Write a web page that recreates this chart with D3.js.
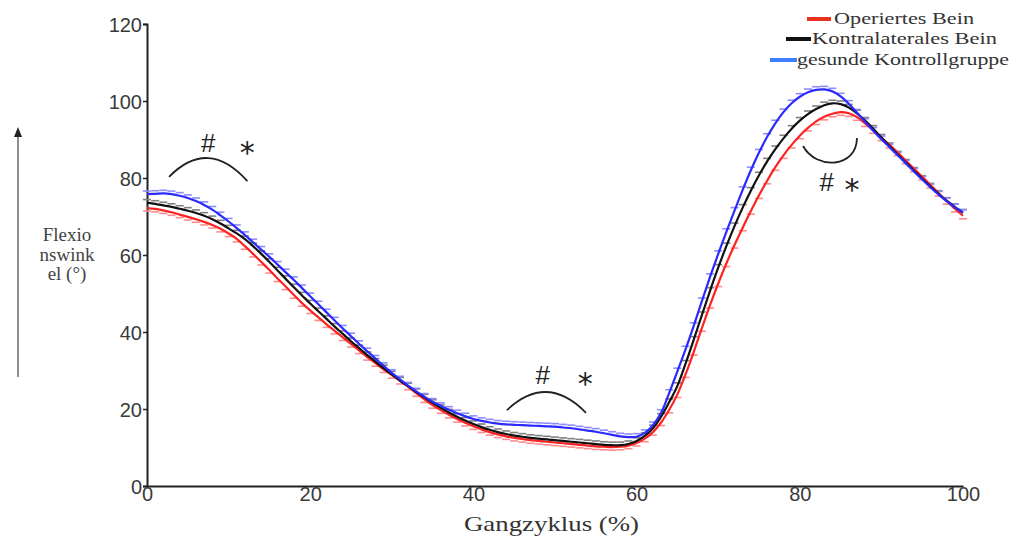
<!DOCTYPE html>
<html><head><meta charset="utf-8">
<script src="https://cdn.jsdelivr.net/npm/d3@7"></script>
<style>body{margin:0;background:#fff} svg{display:block}</style>
</head><body>
<svg id="c" width="1013" height="543"></svg>
<script>
// ---- data ----
const gaitCycle = d3.range(0, 101); // % of gait cycle, 1% steps
const operiertes = [72.2,72.0,71.6,71.1,70.5,69.9,69.3,68.6,67.8,66.8,65.6,64.2,62.3,60.3,58.2,56.1,53.9,51.8,49.6,47.5,
  45.6,43.8,42.0,40.3,38.6,36.9,35.2,33.5,31.9,30.3,28.8,27.3,25.8,24.1,22.5,21.0,19.7,18.5,17.4,16.4,
  15.5,14.7,14.0,13.4,12.9,12.5,12.2,11.9,11.7,11.5,11.3,11.1,10.9,10.7,10.5,10.3,10.2,10.1,10.2,10.5,
  11.2,12.3,14.0,16.5,19.8,23.8,29.0,34.8,41.0,47.0,52.6,57.8,62.6,67.1,71.4,75.5,79.3,82.8,85.9,88.6,
  91.0,93.0,94.7,95.9,96.7,97.1,96.8,95.8,94.2,92.4,90.5,88.6,86.6,84.5,82.4,80.3,78.2,76.1,74.0,72.0,70.2];
const kontralateral = [73.6,73.3,72.9,72.5,72.0,71.5,70.9,70.2,69.3,68.2,66.9,65.6,64.1,62.3,60.3,58.2,56.0,53.8,51.6,49.5,
  47.4,45.4,43.4,41.4,39.5,37.6,35.8,34.0,32.3,30.6,29.0,27.4,25.9,24.4,23.0,21.6,20.3,19.1,18.0,17.0,
  16.1,15.3,14.6,14.0,13.5,13.1,12.8,12.5,12.3,12.1,11.9,11.7,11.5,11.3,11.1,10.9,10.7,10.6,10.6,10.9,
  11.7,13.0,15.0,18.0,21.8,26.0,31.8,38.0,44.4,50.7,56.7,62.3,67.5,72.3,76.7,80.7,84.3,87.5,90.3,92.8,
  94.9,96.6,97.9,98.9,99.4,99.2,98.3,96.8,94.9,92.8,90.5,88.3,86.1,84.0,81.9,79.8,77.8,75.9,74.1,72.5,71.0];
const kontrollgruppe = [75.8,75.9,76.0,75.8,75.4,74.8,74.0,73.0,71.8,70.3,68.7,67.0,65.2,63.3,61.4,59.5,57.5,55.5,53.5,51.4,
  49.3,47.2,45.1,43.0,40.9,38.9,36.9,35.0,33.1,31.2,29.4,27.7,26.1,24.6,23.2,21.9,20.8,19.8,18.9,18.1,
  17.4,16.9,16.5,16.2,16.0,15.9,15.8,15.7,15.6,15.5,15.4,15.2,15.0,14.7,14.4,14.1,13.7,13.3,12.9,12.7,
  12.8,13.8,15.8,19.0,24.2,29.8,35.5,41.6,48.0,54.3,60.3,66.0,71.5,76.9,82.0,86.6,90.7,94.2,97.1,99.4,
  101.1,102.3,102.9,103.0,102.5,101.2,99.3,97.0,94.6,92.3,90.1,88.0,85.9,83.8,81.7,79.6,77.6,75.7,74.0,72.4,71.0];
const seriesErr = [-0.8, 0.8, 0.8]; // error-bar offset (degrees), sign = side drawn
const seriesNames = ["Operiertes Bein", "Kontralaterales Bein", "gesunde Kontrollgruppe"];
const yTicks = [0, 20, 40, 60, 80, 100, 120];
const xTicks = [0, 20, 40, 60, 80, 100];
const yLabelLines = ["Flexio", "nswink", "el (°)"];
const xLabel = "Gangzyklus (%)";
const annotations = [
  {arc: [[2.7,80.3],[7.5,90.6],[12.3,79.2]], hash: [7.5,89.1], star: [12.3,89.4]},
  {arc: [[44.1,19.7],[49.0,29.45],[53.8,19.0]], hash: [48.5,28.8], star: [53.7,29.4]},
  {arc: [[80.4,88.3],[82.0,82.0],[87.0,82.5],[87.0,90.4]], hash: [83.3,79.0], star: [86.4,80.0]}
];

// ---- styles ----
const lineColors = ["#ff2222", "#111111", "#2a2aff"];
const capColors = ["#ff8c8c", "#808080", "#8c8cff"];
const legendColors = ["#e8321e", "#111111", "#3d7fff"];

const svg = d3.select("#c");
const x = d3.scaleLinear().domain([0, 100]).range([147, 963]);
const y = d3.scaleLinear().domain([0, 120]).range([486, 24]);

// axes
const yAxis = d3.axisLeft(y).tickValues(yTicks).tickSize(4).tickPadding(1);
const xAxis = d3.axisBottom(x).tickValues(xTicks).tickSize(0).tickPadding(4);
const gy = svg.append("g").attr("transform", `translate(${x(0)},0)`).call(yAxis);
const gx = svg.append("g").attr("transform", `translate(0,${y(0)})`).call(xAxis);
[gx, gy].forEach(g => {
  g.select(".domain").attr("stroke", "#222").attr("stroke-width", 2);
  g.selectAll(".tick line").attr("stroke", "#222").attr("stroke-width", 1.5);
  g.selectAll(".tick text").attr("fill", "#3a3a3a").attr("font-family", "Liberation Sans, Arial, sans-serif")
    .attr("font-size", 20);
});
gy.selectAll(".tick text").attr("dy", "0.36em");
gx.selectAll(".tick text").attr("dy", "0.55em");

// series
const series = [operiertes, kontralateral, kontrollgruppe];
const line = d3.line().x((d, i) => x(gaitCycle[i])).y(d => y(d)).curve(d3.curveCatmullRom);
const order = [0, 1, 2];
order.forEach(si => {
  const vals = series[si];
  svg.append("g").selectAll("line").data(vals).join("line")
    .attr("x1", (d, i) => x(gaitCycle[i]) - 4)
    .attr("x2", (d, i) => x(gaitCycle[i]) + 4)
    .attr("y1", d => y(d + seriesErr[si]))
    .attr("y2", d => y(d + seriesErr[si]))
    .attr("stroke", capColors[si]).attr("stroke-width", 1.6);
});
order.forEach(si => {
  svg.append("path").datum(series[si]).attr("d", line)
    .attr("fill", "none").attr("stroke", lineColors[si]).attr("stroke-width", 2.2);
});

// annotations
annotations.forEach(a => {
  const p = a.arc.map(q => [x(q[0]), y(q[1])]);
  let d;
  if (p.length === 3) d = `M${p[0]}Q${p[1]} ${p[2]}`;
  else d = `M${p[0]}C${p[1]} ${p[2]} ${p[3]}`;
  svg.append("path").attr("d", d).attr("fill", "none").attr("stroke", "#222").attr("stroke-width", 1.8);
  svg.append("text").attr("x", x(a.hash[0])).attr("y", y(a.hash[1])).attr("dy", "0.36em")
    .attr("text-anchor", "middle").attr("font-family", "Liberation Sans, Arial, sans-serif")
    .attr("font-size", 26).attr("fill", "#222").text("#");
  svg.append("text").attr("x", x(a.star[0])).attr("y", y(a.star[1])).attr("dy", "0.72em")
    .attr("text-anchor", "middle").attr("font-family", "DejaVu Sans, sans-serif")
    .attr("font-size", 30).attr("fill", "#222").text("*");
});

// y label + arrow
svg.append("line").attr("x1", 18).attr("x2", 18).attr("y1", 377).attr("y2", 136)
  .attr("stroke", "#444").attr("stroke-width", 1.2);
svg.append("path").attr("d", "M14,137 L18,127 L22,137 Z").attr("fill", "#222");
svg.append("g").selectAll("text").data(yLabelLines).join("text")
  .attr("x", 67).attr("y", (d, i) => 241 + i * 19.5)
  .attr("text-anchor", "middle").attr("font-family", "Liberation Serif, Times New Roman, serif")
  .attr("font-size", 19).attr("fill", "#444").text(d => d);

// x label
svg.append("text").attr("x", 464).attr("y", 531).attr("textLength", 175).attr("lengthAdjust", "spacingAndGlyphs")
  .attr("font-family", "Liberation Serif, Times New Roman, serif").attr("font-size", 21)
  .attr("fill", "#333").text(xLabel);

// legend
const legendPos = [
  {sx: 807, sw: 24, tx: 834, tw: 140, y: 19},
  {sx: 786, sw: 25, tx: 812, tw: 185, y: 39},
  {sx: 770, sw: 27, tx: 797, tw: 212, y: 60}
];
const lg = svg.append("g").selectAll("g").data(seriesNames).join("g");
lg.append("line")
  .attr("x1", (d, i) => legendPos[i].sx).attr("x2", (d, i) => legendPos[i].sx + legendPos[i].sw)
  .attr("y1", (d, i) => legendPos[i].y).attr("y2", (d, i) => legendPos[i].y)
  .attr("stroke", (d, i) => legendColors[i]).attr("stroke-width", 4);
lg.append("text")
  .attr("x", (d, i) => legendPos[i].tx).attr("y", (d, i) => legendPos[i].y + 5)
  .attr("textLength", (d, i) => legendPos[i].tw).attr("lengthAdjust", "spacingAndGlyphs")
  .attr("font-family", "Liberation Serif, Times New Roman, serif").attr("font-size", 17)
  .attr("fill", "#333").text(d => d);
</script>
</body></html>
